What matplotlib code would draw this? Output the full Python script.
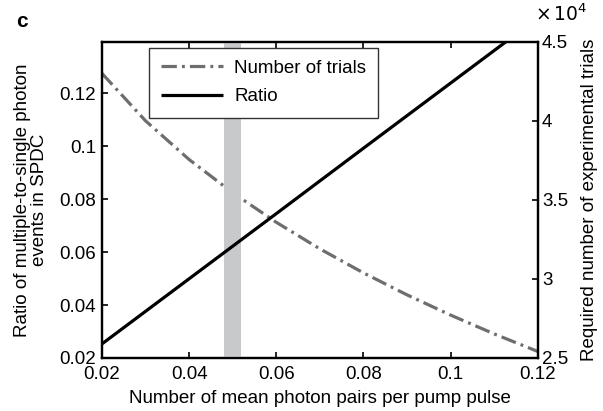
import matplotlib
matplotlib.use("Agg")
import matplotlib.pyplot as plt

plt.rcParams['font.family'] = ['Liberation Sans', 'DejaVu Sans']

# Data
mu_ratio = [0.02, 0.04, 0.06, 0.08, 0.10, 0.12]
ratio = [0.0253, 0.0499, 0.0745, 0.0992, 0.1238, 0.1484]

mu_trials = [0.02, 0.03, 0.04, 0.05, 0.06, 0.07, 0.08, 0.09, 0.10, 0.11, 0.12]
trials = [43000, 40000, 37550, 35450, 33580, 31900, 30380, 28990, 27710, 26520, 25410]

band = [0.048, 0.052]

xticks = [0.02, 0.04, 0.06, 0.08, 0.1, 0.12]
xticklabels = ['0.02', '0.04', '0.06', '0.08', '0.1', '0.12']
lticks = [0.02, 0.04, 0.06, 0.08, 0.1, 0.12]
lticklabels = ['0.02', '0.04', '0.06', '0.08', '0.1', '0.12']
rticks = [25000, 30000, 35000, 40000, 45000]
rticklabels = ['2.5', '3', '3.5', '4', '4.5']

fs = 13.5
fig = plt.figure(figsize=(6.03, 4.11), dpi=100)
ax = fig.add_axes([0.169, 0.129, 0.723, 0.7695])
ax2 = ax.twinx()

ax.axvspan(band[0], band[1], color='#c8c9cb', lw=0, zorder=0)
l_trials, = ax2.plot(mu_trials, trials, color='#6e6e6e', lw=2.3,
                     dashes=(4.8, 1.6, 0.9, 1.6), dash_capstyle='butt')
l_ratio, = ax.plot(mu_ratio, ratio, color='black', lw=2.3, solid_capstyle='butt')

ax.set_xlim(0.02, 0.12)
ax.set_ylim(0.02, 0.1394)
ax2.set_ylim(25000, 45000)

ax.set_xticks(xticks)
ax.set_xticklabels(xticklabels, fontsize=fs)
ax.set_yticks(lticks)
ax.set_yticklabels(lticklabels, fontsize=fs)
ax2.set_yticks(rticks)
ax2.set_yticklabels(rticklabels, fontsize=fs)

ax.tick_params(axis='x', direction='in', top=True, length=4.5, width=1.2, pad=6)
ax.tick_params(axis='y', direction='in', length=4.5, width=1.2, pad=4)
ax2.tick_params(axis='y', direction='in', length=4.5, width=1.2, pad=3)

for a in (ax, ax2):
    for s in a.spines.values():
        s.set_linewidth(1.6)

ax.set_xlabel('Number of mean photon pairs per pump pulse', fontsize=fs, labelpad=5)
ax.set_ylabel('Ratio of multiple-to-single photon\nevents in SPDC', fontsize=fs,
              labelpad=8, linespacing=1.0)
ax2.set_ylabel('Required number of experimental trials', fontsize=fs, labelpad=9)

ax.set_zorder(ax2.get_zorder() + 1)
ax.patch.set_visible(False)

leg = ax.legend([l_trials, l_ratio], ['Number of trials', 'Ratio'],
                loc='upper left', bbox_to_anchor=(0.108, 0.981), fontsize=fs,
                handlelength=3.3, fancybox=False, framealpha=1,
                edgecolor='#333333', borderpad=0.65, labelspacing=0.6,
                handletextpad=0.6, borderaxespad=0)
leg.get_frame().set_linewidth(1.0)

fig.text(0.027, 0.935, 'c', fontsize=15, fontweight='bold', ha='left', va='baseline')
fig.text(0.888, 0.948, r'$\times\,10^4$', fontsize=fs, ha='left', va='baseline')

fig.savefig('out.png', dpi=100)
